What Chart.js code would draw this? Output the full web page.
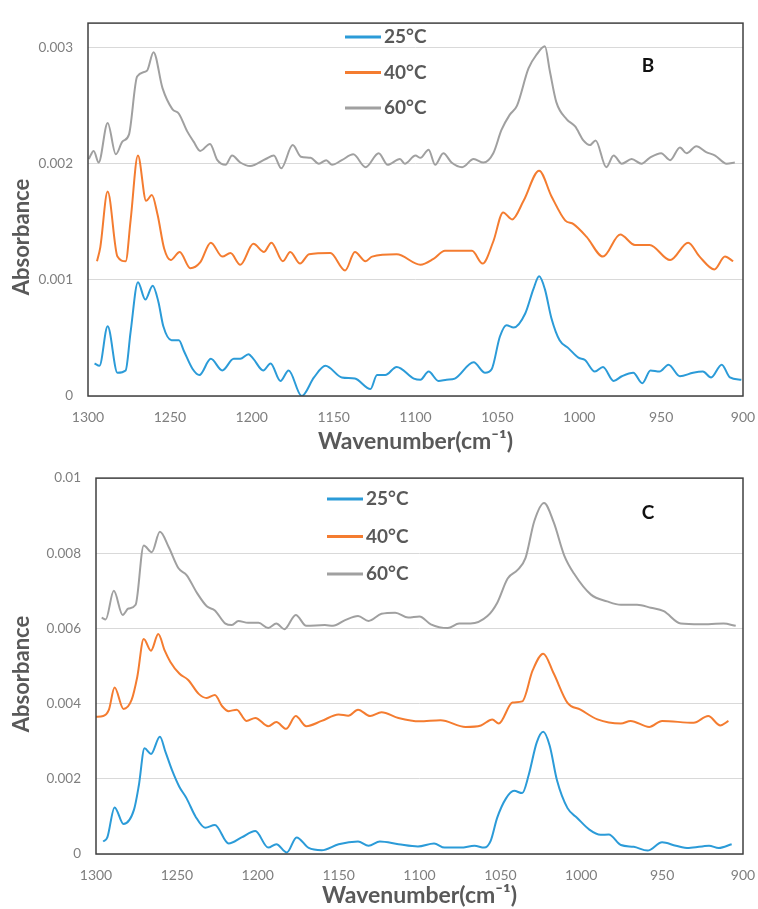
<!DOCTYPE html>
<html>
<head>
<meta charset="utf-8">
<title>FTIR absorbance B / C</title>
<script src="https://cdn.jsdelivr.net/npm/chart.js@4.4.1/dist/chart.umd.min.js"></script>
<style>
  body { margin: 0; background: #fff; }
  canvas { display: block; }
</style>
</head>
<body>
<canvas id="chartB" width="758" height="455"></canvas>
<canvas id="chartC" width="758" height="454"></canvas>
<script>
'use strict';

const seriesLabels = ['25°C', '40°C', '60°C'];
const seriesColors = ['#2b9bd8', '#f47c30', '#a0a0a0'];

const xTicks = [1300, 1250, 1200, 1150, 1100, 1050, 1000, 950, 900];
const xTitle = 'Wavenumber(cm⁻¹)';
const yTitle = 'Absorbance';

// panel B
const yTicksB = [0, 0.001, 0.002, 0.003];
const yTickLabelsB = ['0', '0.001', '0.002', '0.003'];

const b25x = [1296, 1293, 1288, 1282, 1277, 1274, 1269.5, 1265, 1260.5, 1257, 1254, 1249, 1244.5, 1241.5, 1236, 1232, 1225, 1218, 1211, 1207, 1202, 1199, 1193, 1188.5, 1182.5, 1177.5, 1169.5, 1162, 1155, 1145, 1137, 1127.5, 1123.5, 1118.5, 1111.5, 1101, 1097, 1092, 1086, 1081, 1076, 1064.5, 1057.5, 1053.5, 1048.5, 1044.5, 1040, 1033, 1028, 1024.5, 1021, 1017, 1012, 1006.5, 1000.5, 996.5, 990.5, 985.5, 979, 974, 967, 961.5, 956.5, 951, 945.5, 938.5, 930.5, 924.5, 919.5, 913, 908, 901];
const b25y = [0.00028, 0.00026, 0.0006, 0.0002, 0.00022, 0.00055, 0.00098, 0.00083, 0.00095, 0.00081, 0.0006, 0.00048, 0.00048, 0.00039, 0.00023, 0.00018, 0.00032, 0.00022, 0.00032, 0.00032, 0.00036, 0.00032, 0.00022, 0.00028, 0.00013, 0.00022, 0, 0.00016, 0.00026, 0.00016, 0.00015, 0.00006, 0.00018, 0.00018, 0.00025, 0.00015, 0.00014, 0.00021, 0.00013, 0.00014, 0.00015, 0.00029, 0.0002, 0.00023, 0.00051, 0.00061, 0.00059, 0.00071, 0.00092, 0.00103, 0.00092, 0.00067, 0.00048, 0.00041, 0.00033, 0.00031, 0.00021, 0.00025, 0.00013, 0.00017, 0.0002, 0.00011, 0.00022, 0.00021, 0.00027, 0.00017, 0.0002, 0.00021, 0.00016, 0.00027, 0.00016, 0.00014];

const b40x = [1294.5, 1292.5, 1288, 1282, 1277, 1274, 1269.5, 1264.5, 1261, 1257.5, 1253.5, 1249.5, 1244, 1237.5, 1231.5, 1225, 1218, 1213, 1207, 1199, 1192.5, 1188, 1181, 1176.5, 1170.5, 1165, 1152, 1143, 1137, 1130.5, 1126.5, 1111.5, 1097, 1089, 1082, 1065.5, 1059, 1052.5, 1046.5, 1041, 1034, 1024.5, 1017, 1008.5, 1003.5, 995.5, 985.5, 975, 966, 957, 944.5, 933.5, 926.5, 917.5, 911, 906];
const b40y = [0.00116, 0.00128, 0.00176, 0.0012, 0.00116, 0.00151, 0.00207, 0.00168, 0.00173, 0.00156, 0.00127, 0.00117, 0.00124, 0.0011, 0.00115, 0.00132, 0.0012, 0.00123, 0.00113, 0.00131, 0.00124, 0.00132, 0.00116, 0.00124, 0.00114, 0.00122, 0.00123, 0.00108, 0.00124, 0.00116, 0.0012, 0.00122, 0.00113, 0.00118, 0.00125, 0.00125, 0.00114, 0.00133, 0.00158, 0.00152, 0.00168, 0.00194, 0.00172, 0.00151, 0.00148, 0.00137, 0.0012, 0.00139, 0.0013, 0.0013, 0.00117, 0.00132, 0.0012, 0.00109, 0.0012, 0.00116];

const b60x = [1299.5, 1296.5, 1293.5, 1288, 1283, 1279, 1275, 1270, 1264, 1260, 1254.5, 1248.5, 1244.5, 1239.5, 1235.5, 1231.5, 1225.5, 1221, 1216, 1212, 1207, 1201, 1191.5, 1186.5, 1182, 1175, 1170, 1164, 1159, 1154.5, 1151, 1145, 1138, 1130.5, 1122.5, 1117, 1109.5, 1106.5, 1100, 1097, 1092, 1088, 1083, 1078, 1071.5, 1064.5, 1058.5, 1052.5, 1047.5, 1042.5, 1038, 1031, 1026, 1021, 1018, 1014, 1007.5, 1002.5, 997.5, 993.5, 990, 983.5, 979, 974, 968, 962, 957, 950, 944.5, 938.5, 934.5, 928.5, 922.5, 917, 910, 905];
const b60y = [0.00204, 0.00211, 0.00201, 0.00235, 0.00208, 0.00219, 0.00225, 0.00275, 0.0028, 0.00296, 0.00265, 0.00247, 0.00243, 0.00228, 0.00219, 0.00211, 0.00217, 0.00203, 0.00199, 0.00207, 0.00201, 0.00198, 0.00204, 0.00207, 0.00196, 0.00216, 0.00206, 0.00205, 0.002, 0.00203, 0.00199, 0.00203, 0.00208, 0.00197, 0.00209, 0.00199, 0.00204, 0.002, 0.00207, 0.00205, 0.00212, 0.00199, 0.00209, 0.00201, 0.00197, 0.00204, 0.00201, 0.00209, 0.00229, 0.00242, 0.0025, 0.00282, 0.00294, 0.00301, 0.0028, 0.00253, 0.00238, 0.00232, 0.0022, 0.00216, 0.0022, 0.00197, 0.00207, 0.002, 0.00204, 0.002, 0.00205, 0.00209, 0.00203, 0.00214, 0.00209, 0.00215, 0.0021, 0.00207, 0.002, 0.00201];

// panel C
const yTicksC = [0, 0.002, 0.004, 0.006, 0.008, 0.01];
const yTickLabelsC = ['0', '0.002', '0.004', '0.006', '0.008', '0.01'];

const c25x = [1295.5, 1293, 1288.5, 1283, 1276.5, 1273.5, 1270, 1266, 1260.5, 1257, 1253, 1248.5, 1244, 1238.5, 1232.5, 1226.5, 1218, 1210, 1201.5, 1193.5, 1188.5, 1182, 1176, 1168.5, 1160.5, 1150, 1138, 1131.5, 1124.5, 1113, 1101, 1091, 1084.5, 1074.5, 1066, 1060, 1056, 1052, 1046.5, 1041.5, 1036.5, 1032.5, 1027.5, 1023.5, 1019.5, 1015, 1008.5, 1002.5, 995, 988, 983, 975.5, 967.5, 959, 950, 941.5, 933.5, 921, 915, 907];
const c25y = [0.00033, 0.00044, 0.00124, 0.0008, 0.00118, 0.00183, 0.00281, 0.00266, 0.00312, 0.00271, 0.00223, 0.00179, 0.00148, 0.001, 0.0007, 0.00077, 0.00028, 0.00044, 0.00061, 0.00017, 0.00026, 0.00004, 0.00044, 0.00016, 0.0001, 0.00026, 0.00033, 0.00022, 0.00033, 0.00026, 0.0002, 0.00028, 0.00017, 0.00017, 0.00022, 0.00017, 0.00035, 0.00096, 0.00148, 0.00168, 0.00162, 0.0021, 0.00297, 0.00325, 0.00288, 0.00196, 0.00122, 0.00096, 0.00065, 0.00051, 0.00052, 0.00024, 0.00019, 0.00009, 0.00031, 0.00022, 0.00016, 0.00022, 0.00016, 0.00026];

const c40x = [1300, 1295.5, 1292, 1288.5, 1283, 1278, 1274.5, 1270.5, 1266, 1261.5, 1257.5, 1254, 1248.5, 1243, 1236.5, 1231.5, 1226.5, 1222, 1218, 1213, 1207, 1201.5, 1193.5, 1188.5, 1182.5, 1176.5, 1170, 1160.5, 1150, 1144, 1138, 1130.5, 1123.5, 1113, 1100, 1087, 1071.5, 1062, 1055, 1051, 1042.5, 1036.5, 1030, 1023.5, 1017, 1008.5, 1000.5, 990, 975.5, 969.5, 958, 950, 930.5, 921.5, 914, 909];
const c40y = [0.00365, 0.00367, 0.00384, 0.00443, 0.00386, 0.0041, 0.00471, 0.00572, 0.00541, 0.00585, 0.00541, 0.00511, 0.0048, 0.00463, 0.00426, 0.00415, 0.00423, 0.00393, 0.0038, 0.00384, 0.00354, 0.00362, 0.0034, 0.00351, 0.00333, 0.00367, 0.0034, 0.00354, 0.00371, 0.00368, 0.00384, 0.00367, 0.00377, 0.00362, 0.00353, 0.00356, 0.00338, 0.00342, 0.00358, 0.00347, 0.00403, 0.00406, 0.00489, 0.00533, 0.0048, 0.00402, 0.00384, 0.00358, 0.00347, 0.00354, 0.00338, 0.00354, 0.00349, 0.00367, 0.00342, 0.00354];

const c60x = [1296.5, 1294, 1289, 1283.5, 1280, 1275.5, 1270.5, 1265.5, 1260.5, 1255, 1249, 1244, 1237.5, 1231.5, 1226.5, 1220, 1216, 1212, 1206, 1199.5, 1193.5, 1188.5, 1183.5, 1176.5, 1170, 1158.5, 1153.5, 1146, 1138, 1131.5, 1123.5, 1115, 1107, 1100, 1093, 1082.5, 1075.5, 1068.5, 1058, 1052, 1045.5, 1039.5, 1034.5, 1029, 1023, 1017, 1010.5, 1004.5, 994, 984, 975.5, 965.5, 957, 949, 938.5, 926.5, 912, 904.5];
const c60y = [0.00629, 0.00624, 0.007, 0.00636, 0.00653, 0.00663, 0.00821, 0.00803, 0.00857, 0.00816, 0.0076, 0.00742, 0.00694, 0.00659, 0.00648, 0.00613, 0.00609, 0.0062, 0.00615, 0.00615, 0.00601, 0.00613, 0.00598, 0.00636, 0.00607, 0.00609, 0.00607, 0.00622, 0.00633, 0.0062, 0.00639, 0.00642, 0.00629, 0.00632, 0.00611, 0.00601, 0.00613, 0.00613, 0.00633, 0.00668, 0.00733, 0.00755, 0.00787, 0.00886, 0.00934, 0.00882, 0.00794, 0.00746, 0.0069, 0.00672, 0.00663, 0.00663, 0.00655, 0.00646, 0.00613, 0.00611, 0.00613, 0.00607];

Chart.defaults.font.family = 'Lato, "Noto Sans", sans-serif';

function toPoints(xs, ys) {
  return xs.map((x, i) => ({x: x, y: ys[i]}));
}

function makeDatasets(pairs) {
  return pairs.map((p, i) => ({
    label: seriesLabels[i],
    data: toPoints(p[0], p[1]),
    borderColor: seriesColors[i],
    borderWidth: 2,
    pointRadius: 0,
    cubicInterpolationMode: 'monotone',
    fill: false
  }));
}

// frame, in-plot legend, panel letter and the y title
const panelDecor = {
  id: 'panelDecor',
  afterDraw(chart, args, opts) {
    const ctx = chart.ctx;
    const a = chart.chartArea;
    ctx.save();
    ctx.strokeStyle = '#404040';
    ctx.lineWidth = 1.5;
    ctx.strokeRect(a.left, a.top, a.right - a.left, a.bottom - a.top);

    ctx.font = 'bold 19px Lato, "Noto Sans", sans-serif';
    ctx.textBaseline = 'middle';
    ctx.textAlign = 'left';
    chart.data.datasets.forEach((ds, i) => {
      const y = opts.legendY + i * opts.legendGap;
      ctx.strokeStyle = ds.borderColor;
      ctx.lineWidth = 3;
      ctx.beginPath();
      ctx.moveTo(opts.legendX, y);
      ctx.lineTo(opts.legendX + 36, y);
      ctx.stroke();
      ctx.fillStyle = '#595959';
      ctx.fillText(ds.label, opts.legendX + 39, y);
    });

    ctx.fillStyle = '#111';
    ctx.textAlign = 'center';
    ctx.font = 'bold 19px Lato, "Noto Sans", sans-serif';
    ctx.fillText(opts.letter, opts.letterX, opts.letterY);

    ctx.fillStyle = '#595959';
    ctx.font = 'bold 22px Lato, "Noto Sans", sans-serif';
    ctx.translate(22, opts.yTitleY);
    ctx.rotate(-Math.PI / 2);
    ctx.fillText(yTitle, 0, 0);
    ctx.restore();
  }
};

function makeChart(id, datasets, yMax, yTicks, yLabels, yAxisW, xAxisH, padTop, decor) {
  return new Chart(document.getElementById(id), {
    type: 'line',
    data: {datasets: datasets},
    plugins: [panelDecor],
    options: {
      responsive: false,
      animation: false,
      layout: {padding: {top: padTop, right: 15, left: 0, bottom: 0}},
      plugins: {
        legend: {display: false},
        tooltip: {enabled: false},
        panelDecor: decor
      },
      scales: {
        x: {
          type: 'linear',
          min: 900,
          max: 1300,
          reverse: true,
          afterBuildTicks: s => { s.ticks = xTicks.map(v => ({value: v})); },
          afterFit: s => {
            s.height = xAxisH;
            s.paddingLeft = 0;
            s.paddingRight = 0;
          },
          grid: {display: false, drawTicks: false},
          border: {display: false},
          ticks: {
            color: '#7f7f7f',
            font: {size: 14},
            padding: 13,
            maxRotation: 0,
            callback: v => String(v)
          },
          title: {
            display: true,
            text: xTitle,
            color: '#595959',
            font: {size: 23, weight: 'bold'},
            padding: {top: 0, bottom: 0}
          }
        },
        y: {
          min: 0,
          max: yMax,
          afterBuildTicks: s => { s.ticks = yTicks.map(v => ({value: v})); },
          afterFit: s => { s.width = yAxisW; },
          grid: {color: '#d9d9d9', drawTicks: false},
          border: {display: false},
          ticks: {
            color: '#7f7f7f',
            font: {size: 13.5},
            padding: 15,
            callback: (v, i) => yLabels[i]
          }
        }
      }
    }
  });
}

makeChart('chartB',
  makeDatasets([[b25x, b25y], [b40x, b40y], [b60x, b60y]]),
  0.00321, yTicksB, yTickLabelsB, 88, 59, 14,
  {legendX: 345, legendY: 37, legendGap: 35.5, letter: 'B', letterX: 648, letterY: 66, yTitleY: 237});

makeChart('chartC',
  makeDatasets([[c25x, c25y], [c40x, c40y], [c60x, c60y]]),
  0.01, yTicksC, yTickLabelsC, 96, 55, 18,
  {legendX: 327, legendY: 44, legendGap: 37.5, letter: 'C', letterX: 648, letterY: 58, yTitleY: 219});
</script>
</body>
</html>
